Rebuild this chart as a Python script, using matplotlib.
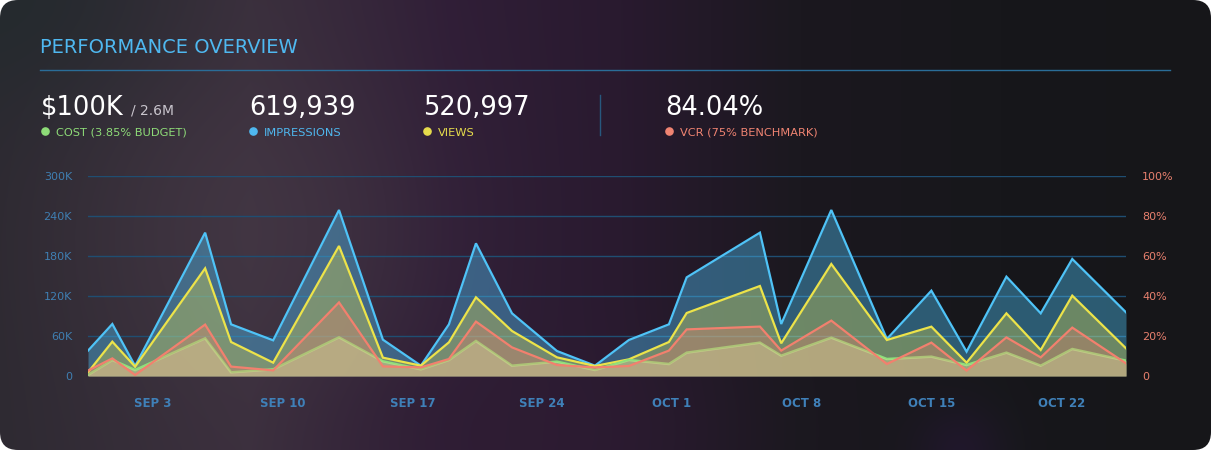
import numpy as np
import pandas as pd
import matplotlib
matplotlib.use("Agg")
import matplotlib.pyplot as plt
import matplotlib.dates as mdates
from matplotlib.patches import FancyBboxPatch, Circle
from matplotlib.ticker import FixedLocator

# ---------------- data ----------------
dates = ["2023-08-30 12:00", "2023-08-31 19:30", "2023-09-02 01:00", "2023-09-05 19:40",
         "2023-09-07 05:15", "2023-09-09 11:45", "2023-09-13 01:00", "2023-09-15 09:50",
         "2023-09-17 11:00", "2023-09-18 23:20", "2023-09-20 10:20", "2023-09-22 09:00",
         "2023-09-24 19:10", "2023-09-26 20:25", "2023-09-28 16:20", "2023-09-30 20:10",
         "2023-10-01 19:10", "2023-10-05 18:00", "2023-10-06 21:35", "2023-10-09 14:25",
         "2023-10-12 14:25", "2023-10-15 00:00", "2023-10-16 21:35", "2023-10-19 01:10",
         "2023-10-20 21:35", "2023-10-22 14:25", "2023-10-25 12:00"]
impressions = [38000, 78000, 15000, 215000, 77500, 53500, 249000, 54500, 15500, 77500,
               199000, 94000, 37500, 15500, 54000, 77500, 148000, 215000, 78000, 249000,
               55500, 128000, 36500, 149000, 94000, 175500, 95500]
views = [5500, 51500, 14000, 161500, 51000, 20000, 195000, 27500, 15500, 50500,
         118000, 67500, 28000, 15000, 25000, 51000, 94500, 135000, 49000, 168000,
         54000, 74000, 20000, 94000, 39000, 120500, 41500]
cost = [1500, 24000, 9000, 56500, 5500, 10000, 58000, 22000, 10000, 24000,
        52500, 15500, 21500, 9000, 24000, 18000, 35000, 50000, 30500, 57500,
        25500, 29000, 16500, 35000, 15500, 40500, 23000]
vcr_pct = [2.7, 8.8, 0.5, 25.7, 4.7, 2.8, 36.8, 4.8, 4.3, 8.5,
           27.2, 14.3, 5.5, 4.3, 5.0, 12.7, 23.3, 24.7, 12.7, 27.7,
           6.0, 16.7, 2.7, 19.3, 9.3, 24.2, 6.3]
tick_dates = ["2023-09-03", "2023-09-10", "2023-09-17", "2023-09-24",
              "2023-10-01", "2023-10-08", "2023-10-15", "2023-10-22"]
tick_labels = ["SEP 3", "SEP 10", "SEP 17", "SEP 24", "OCT 1", "OCT 8", "OCT 15", "OCT 22"]
left_ticks = [0, 60000, 120000, 180000, 240000, 300000]
left_labels = ["0", "60K", "120K", "180K", "240K", "300K"]
right_ticks = [0, 20, 40, 60, 80, 100]
right_labels = ["0", "20%", "40%", "60%", "80%", "100%"]

kpis = [("$100K", "COST (3.85% BUDGET)", "#8edc78"),
        ("619,939", "IMPRESSIONS", "#4fb8f0"),
        ("520,997", "VIEWS", "#e6dc4c"),
        ("84.04%", "VCR (75% BENCHMARK)", "#f08472")]

# ---------------- figure ----------------
W, H = 1211, 450
fig = plt.figure(figsize=(W / 100, H / 100), dpi=100, facecolor="white")
plt.rcParams["font.family"] = ["DejaVu Sans"]

bg = fig.add_axes([0, 0, 1, 1])
bg.set_xlim(0, W)
bg.set_ylim(H, 0)
bg.axis("off")

# background gradient image
xs = np.arange(W)[None, :].astype(float)
ys = np.arange(H)[:, None].astype(float)
stops_x = [0, 250, 450, 620, 800, 1000, 1211]
stops_c = np.array([(46, 42, 50), (60, 48, 62), (48, 30, 55), (41, 26, 47),
                    (27, 24, 31), (23, 23, 27), (22, 22, 25)], dtype=float)
img = np.zeros((H, W, 3))
for k in range(3):
    img[:, :, k] = np.interp(xs, stops_x, stops_c[:, k])
img = np.broadcast_to(img, (H, W, 3)).copy()


def blob(cx, cy, sx, sy, color, strength):
    g = np.exp(-(((xs - cx) / sx) ** 2 + ((ys - cy) / sy) ** 2))
    g = g * strength
    for k in range(3):
        img[:, :, k] = img[:, :, k] * (1 - g) + color[k] * g


blob(0, 0, 170, 120, (36, 42, 46), 0.9)
blob(260, 230, 170, 160, (72, 60, 72), 0.45)
blob(520, 430, 160, 80, (46, 28, 50), 0.6)
blob(960, 450, 45, 45, (34, 24, 46), 0.8)
img = np.clip(img, 0, 255) / 255.0

card = FancyBboxPatch((0, 0), W, H, boxstyle="round,pad=0,rounding_size=18",
                      transform=bg.transData, facecolor="none", edgecolor="none")
bg.add_patch(card)
im = bg.imshow(img, extent=(0, W, H, 0), interpolation="bilinear", zorder=0)
im.set_clip_path(card)


def fx(x):
    return x / W


def fy(y):
    return 1 - y / H


# title and separator
fig.text(fx(40), fy(53), "PERFORMANCE OVERVIEW", color="#4fb8f0", fontsize=14,
         va="baseline", ha="left")
bg.plot([40, 1170], [70, 70], color="#2a6d98", lw=1.0, zorder=2)

# KPIs
big_x = [41, 249, 423, 665]
for (val, lab, col), x0 in zip(kpis, big_x):
    fig.text(fx(x0), fy(115), val, color="white", fontsize=18.5, va="baseline", ha="left")
    bg.add_patch(Circle((x0 + 4.5, 131.5), 3.6, color=col, zorder=3))
    fig.text(fx(x0 + 15), fy(135.5), lab, color=col, fontsize=8.2, va="baseline", ha="left")
fig.text(fx(131), fy(115), "/ 2.6M", color="#c9c5cd", fontsize=10, va="baseline", ha="left")
bg.plot([600, 600], [95, 135], color="#27587e", lw=1.0, zorder=2)

# ---------------- chart ----------------
x = pd.to_datetime(dates)
ax = fig.add_axes([fx(88), fy(376), (1126 - 88) / W, 200 / H])
ax.set_facecolor("none")
ax2 = ax.twinx()
ax2.set_facecolor("none")

ax.set_ylim(0, 300000)
ax2.set_ylim(0, 100)
ax.set_xlim(x[0], x[-1])

for yv in left_ticks:
    ax.axhline(yv, color="#1f4e72", lw=1.0, zorder=0.5)

blue = "#4fc3f7"
yellow = "#ece34a"
green = "#8ee07a"
red = "#f2806e"

ax.fill_between(x, impressions, 0, color=blue, alpha=0.4, lw=0, zorder=1)
ax.plot(x, impressions, color=blue, lw=1.6, zorder=2, solid_joinstyle="miter")
ax.fill_between(x, views, 0, color=yellow, alpha=0.33, lw=0, zorder=3)
ax.plot(x, views, color=yellow, lw=1.6, zorder=4, solid_joinstyle="miter")
ax.plot(x, cost, color=green, lw=1.8, zorder=5, solid_joinstyle="miter")

ax2.set_zorder(ax.get_zorder() + 1)
ax2.fill_between(x, vcr_pct, 0, color=red, alpha=0.3, lw=0, zorder=1)
ax2.fill_between(x, np.array(cost) / 3000.0, 0, color="#dcd79c", alpha=0.42, lw=0, zorder=2)
ax2.plot(x, vcr_pct, color=red, lw=1.6, zorder=3, solid_joinstyle="miter")

for a in (ax, ax2):
    for s in a.spines.values():
        s.set_visible(False)

ax.yaxis.set_major_locator(FixedLocator(left_ticks))
ax.set_yticklabels(left_labels)
ax.tick_params(axis="y", length=0, pad=11.5, labelsize=8, labelcolor="#3f7fb2")
ax2.yaxis.set_major_locator(FixedLocator(right_ticks))
ax2.set_yticklabels(right_labels)
ax2.tick_params(axis="y", length=0, pad=11.5, labelsize=8, labelcolor="#e8806e")

tx = mdates.date2num(pd.to_datetime(tick_dates))
ax.xaxis.set_major_locator(FixedLocator(tx))
ax.set_xticklabels(tick_labels)
ax.tick_params(axis="x", length=0, pad=15, labelsize=8.5, labelcolor="#3f80b8")
for t in ax.get_xticklabels():
    t.set_fontweight("bold")
ax2.tick_params(axis="x", length=0, labelbottom=False)

fig.savefig("out.png", dpi=100, facecolor="white")
